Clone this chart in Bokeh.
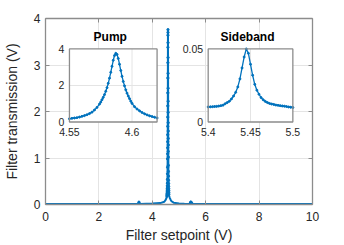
from bokeh.plotting import figure
from bokeh.models import Range1d, FixedTicker, LinearAxis
from bokeh.core.properties import value
from bokeh.embed import file_html
from bokeh.resources import INLINE

# ---------------- data ----------------
pump_x = [4.550, 4.552, 4.554, 4.556, 4.558, 4.560, 4.562, 4.564, 4.566, 4.568,
          4.570, 4.572, 4.574, 4.575, 4.576, 4.577, 4.578, 4.579, 4.580, 4.581,
          4.582, 4.583, 4.584, 4.585, 4.586, 4.587, 4.588, 4.589, 4.590, 4.591,
          4.592, 4.593, 4.594, 4.595, 4.596, 4.597, 4.598, 4.599, 4.600, 4.602,
          4.604, 4.606, 4.608, 4.610, 4.612, 4.614, 4.616, 4.618, 4.620]
pump_y = [0.18, 0.20, 0.22, 0.24, 0.27, 0.31, 0.35, 0.40, 0.46, 0.54,
          0.66, 0.80, 0.98, 1.09, 1.22, 1.35, 1.50, 1.68, 1.88, 2.12,
          2.40, 2.72, 3.05, 3.38, 3.64, 3.76, 3.70, 3.48, 3.16, 2.82,
          2.50, 2.22, 1.98, 1.76, 1.58, 1.42, 1.28, 1.14, 1.02, 0.84,
          0.71, 0.61, 0.52, 0.45, 0.39, 0.34, 0.30, 0.26, 0.22]

side_x = [5.4000, 5.4025, 5.4050, 5.4075, 5.4100, 5.4125, 5.4150, 5.4175, 5.4200, 5.4225,
          5.4250, 5.4275, 5.4300, 5.4325, 5.4350, 5.4375, 5.4400, 5.4425, 5.4450, 5.4475,
          5.4500, 5.4525, 5.4550, 5.4575, 5.4600, 5.4625, 5.4650, 5.4675, 5.4700, 5.4725,
          5.4750, 5.4775, 5.4800, 5.4825, 5.4850, 5.4875, 5.4900, 5.4925, 5.4950, 5.4975,
          5.5000]
side_y = [0.0103, 0.0104, 0.0105, 0.0106, 0.0107, 0.0109, 0.0112, 0.0115, 0.0125, 0.0133,
          0.0142, 0.0158, 0.0178, 0.0203, 0.0240, 0.0295, 0.0370, 0.0445, 0.0500, 0.0470,
          0.0395, 0.0320, 0.0258, 0.0218, 0.0190, 0.0167, 0.0152, 0.0141, 0.0133, 0.0127,
          0.0123, 0.0120, 0.0116, 0.0114, 0.0112, 0.0110, 0.0108, 0.0106, 0.0103, 0.0101,
          0.0099]

base_left_x = [0.0, 0.5, 1.0, 1.5, 2.0, 2.5, 3.0, 3.45]
base_left_y = [0.01, 0.01, 0.01, 0.01, 0.01, 0.01, 0.01, 0.01]
blip_x = [3.5]
blip_y = [0.05]
mid_x = [3.55, 4.0, 4.3, 4.45, 4.5, 4.53]
mid_y = [0.01, 0.02, 0.03, 0.06, 0.10, 0.14]
wing_x = [4.63, 4.65, 4.68, 4.72, 4.80, 5.00, 5.20, 5.35]
wing_y = [0.19, 0.15, 0.11, 0.07, 0.04, 0.02, 0.015, 0.012]
base_right_x = [5.6, 6.0, 7.0, 8.0, 9.0, 10.0]
base_right_y = [0.01, 0.01, 0.01, 0.01, 0.01, 0.01]

main_x = base_left_x + blip_x + mid_x + pump_x + wing_x + side_x + base_right_x
main_y = base_left_y + blip_y + mid_y + pump_y + wing_y + side_y + base_right_y
dots_x = blip_x + pump_x + side_x
dots_y = blip_y + pump_y + side_y

main_x_ticks = [0, 2, 4, 6, 8, 10]
main_y_ticks = [0, 1, 2, 3, 4]
pump_x_ticks = [4.55, 4.6]
pump_x_labels = ["4.55", "4.6"]
pump_y_ticks = [0, 2, 4]
pump_y_labels = ["0", "2", "4"]
side_x_ticks = [5.4, 5.45, 5.5]
side_x_labels = ["5.4", "5.45", "5.5"]
side_y_ticks = [0, 0.05]
side_y_labels = ["0", "0.05"]

x_label = "Filter setpoint (V)"
y_label = "Filter transmission (V)"
pump_title = "Pump"
side_title = "Sideband"

# ---------------- styles / layout ----------------
FONT = "Liberation Sans"
BLUE = "#0072BD"
AXC = "#8c8c8c"
GRID = "#e4e4e4"
TXT = "#262626"

PUMP_XR = (4.55, 4.62)
PUMP_YR = (0, 4)
SIDE_XR = (5.4, 5.5)
SIDE_YR = (0, 0.05)
# inset placement (in main-axes data units)
PUMP_TX = (0.897, 4.179)
SIDE_TX = (6.093, 9.264)
INSET_TY = (1.774, 3.345)

p = figure(width=344, height=245, output_backend="svg", toolbar_location=None,
           x_range=Range1d(0, 10), y_range=Range1d(0, 4),
           min_border_left=44, min_border_right=32, min_border_top=18, min_border_bottom=41)
p.outline_line_color = None
p.background_fill_color = "white"
p.border_fill_color = "white"

p.xaxis.ticker = FixedTicker(ticks=main_x_ticks)
p.yaxis.ticker = FixedTicker(ticks=main_y_ticks)
p.xgrid.ticker = FixedTicker(ticks=main_x_ticks)
p.ygrid.ticker = FixedTicker(ticks=main_y_ticks)
for g in (p.xgrid, p.ygrid):
    g.grid_line_color = GRID
    g.grid_line_width = 1

p.add_layout(LinearAxis(ticker=FixedTicker(ticks=main_y_ticks),
                        major_label_overrides={t: "" for t in main_y_ticks}), "right")
p.add_layout(LinearAxis(ticker=FixedTicker(ticks=main_x_ticks),
                        major_label_overrides={t: "" for t in main_x_ticks}), "above")

for ax in p.axis:
    ax.axis_line_color = AXC
    ax.axis_line_width = 1.3
    ax.major_tick_line_color = AXC
    ax.major_tick_in = 4
    ax.major_tick_out = 0
    ax.minor_tick_line_color = None
    ax.major_label_text_font = FONT
    ax.major_label_text_font_size = "12px"
    ax.major_label_text_color = TXT
    ax.axis_label_text_font = FONT
    ax.axis_label_text_font_size = "14px"
    ax.axis_label_text_font_style = "normal"
    ax.axis_label_text_color = TXT
for ax in p.right + p.above:
    ax.major_label_standoff = 0
for ax in p.left:
    ax.major_label_standoff = 5
    ax.axis_label = y_label
    ax.axis_label_standoff = 11
for ax in p.below:
    ax.major_label_standoff = 7
    ax.axis_label = x_label
    ax.axis_label_standoff = 3

# main trace
p.line(main_x, main_y, line_color=BLUE, line_width=2)
p.scatter(dots_x, dots_y, size=2.3, color=BLUE, marker="circle")

def inset(xr, yr, tx, xt, xl, yt, yl, xs, ys, title):
    sub = p.subplot(x_source=Range1d(*xr), y_source=Range1d(*yr),
                    x_target=Range1d(*tx), y_target=Range1d(*INSET_TY))
    sub.quad(left=[xr[0]], right=[xr[1]], bottom=[yr[0]], top=[yr[1]],
             fill_color="white", line_color=None)
    gx = [t for t in xt if xr[0] < t < xr[1]]
    gy = [t for t in yt if yr[0] < t < yr[1]]
    if gx:
        sub.segment(x0=gx, x1=gx, y0=[yr[0]] * len(gx), y1=[yr[1]] * len(gx),
                    line_color=GRID, line_width=1)
    if gy:
        sub.segment(x0=[xr[0]] * len(gy), x1=[xr[1]] * len(gy), y0=gy, y1=gy,
                    line_color=GRID, line_width=1)
    sub.line(xs, ys, line_color=BLUE, line_width=1.3)
    sub.scatter(xs, ys, size=2.0, color=BLUE, marker="circle")
    sub.quad(left=[xr[0]], right=[xr[1]], bottom=[yr[0]], top=[yr[1]],
             fill_color=None, line_color=AXC, line_width=1.3)
    sub.text(x=[xr[0]] * len(yt), y=yt, text=yl, x_offset=-5,
             text_align="right", text_baseline="middle",
             text_font=value(FONT), text_font_size="10.5px", text_color=TXT)
    sub.text(x=xt, y=[yr[0]] * len(xt), text=xl, y_offset=6,
             text_align="center", text_baseline="top",
             text_font=value(FONT), text_font_size="10.5px", text_color=TXT)
    sub.text(x=[(xr[0] + xr[1]) / 2], y=[yr[1]], text=[title], x_offset=-3, y_offset=-5,
             text_align="center", text_baseline="bottom",
             text_font=value(FONT), text_font_size="12px", text_font_style="bold",
             text_color="black")

inset(PUMP_XR, PUMP_YR, PUMP_TX, pump_x_ticks, pump_x_labels, pump_y_ticks, pump_y_labels,
      pump_x, pump_y, pump_title)
inset(SIDE_XR, SIDE_YR, SIDE_TX, side_x_ticks, side_x_labels, side_y_ticks, side_y_labels,
      side_x, side_y, side_title)

open("out.html", "w").write(file_html(p, INLINE))
